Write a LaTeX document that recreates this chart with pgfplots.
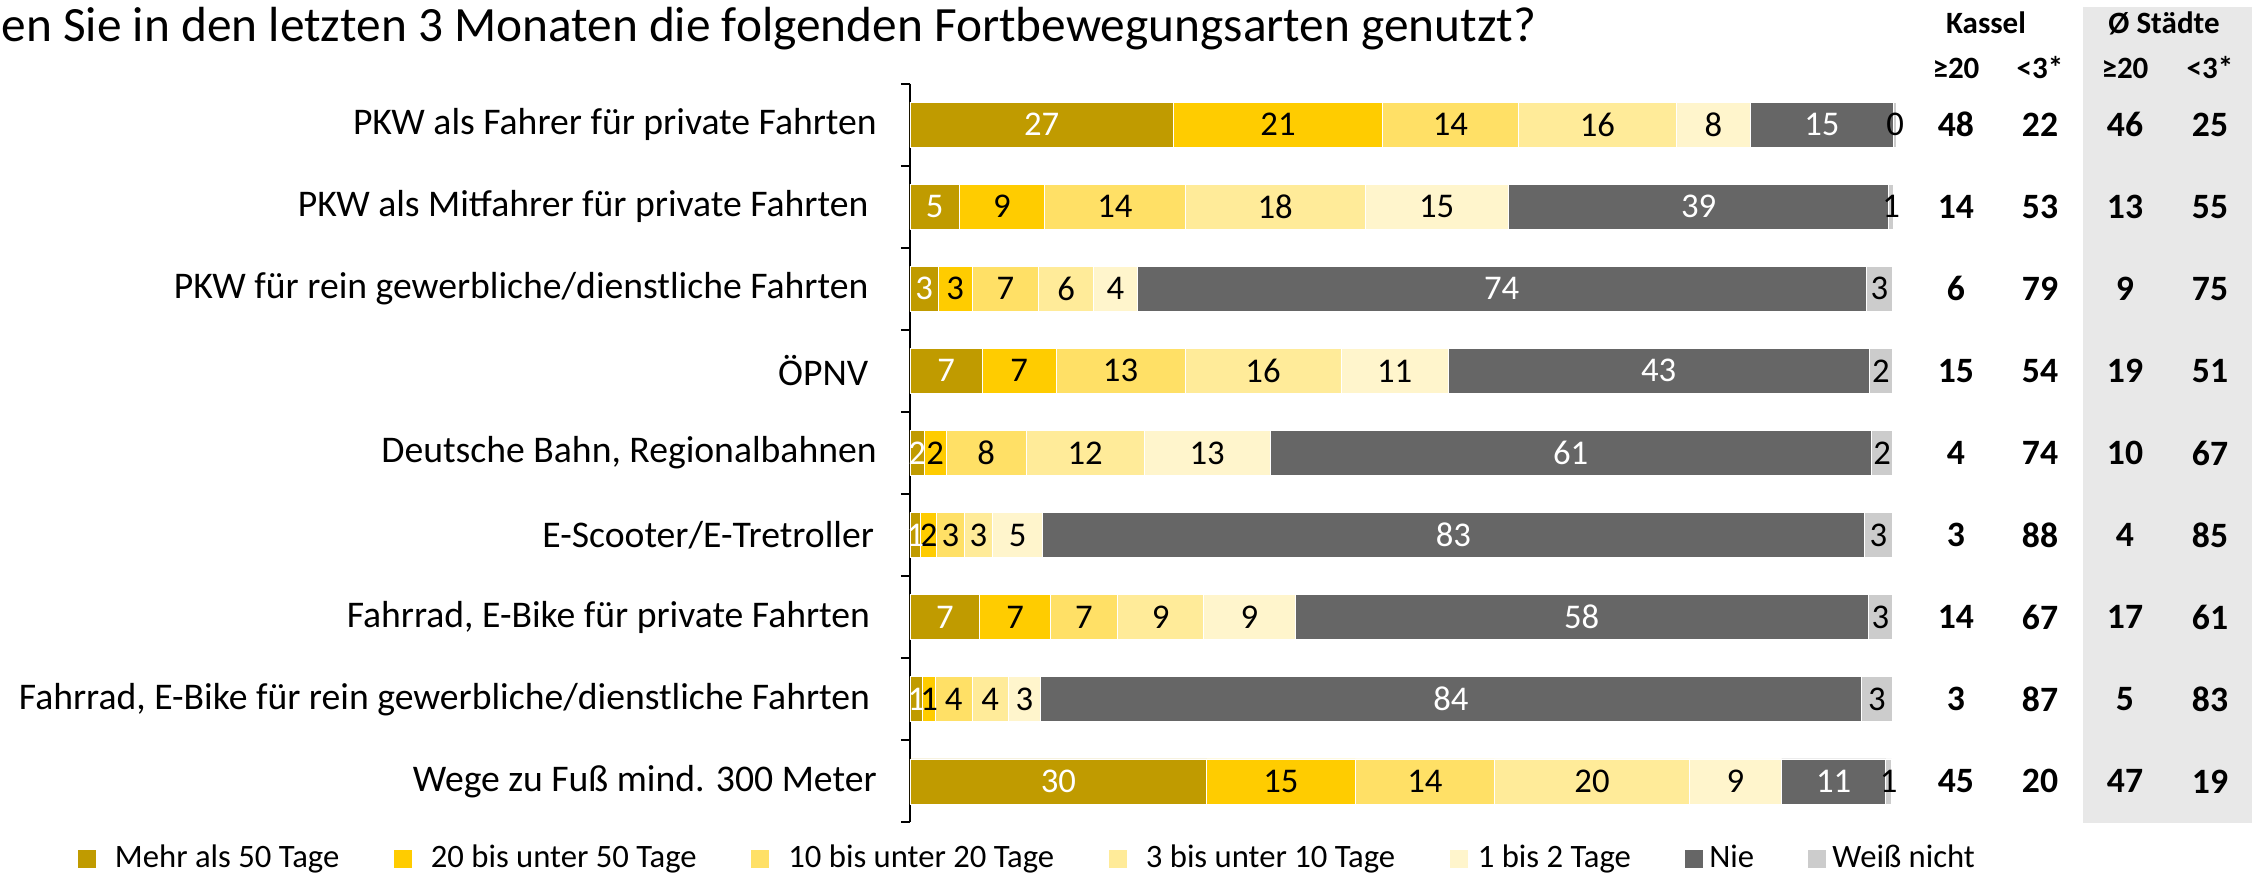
\documentclass[border=0pt]{standalone}
\usepackage{pgfplots}
\pgfplotsset{compat=1.18}
\usepackage{fontspec}
\setmainfont{Carlito}
\definecolor{cA}{RGB}{192,155,0}
\definecolor{cB}{RGB}{255,204,0}
\definecolor{cC}{RGB}{255,224,102}
\definecolor{cD}{RGB}{255,235,153}
\definecolor{cE}{RGB}{255,245,204}
\definecolor{cF}{RGB}{102,102,102}
\definecolor{cG}{RGB}{204,204,204}
\definecolor{panel}{RGB}{232,232,232}
\newcommand{\numfont}{\fontsize{10.7}{12}\selectfont\bfseries}
\newcommand{\trow}[5]{%
  \node[font=\numfont] at (axis cs:106.44,#1) {#2};
  \node[font=\numfont] at (axis cs:114.99,#1) {#3};
  \node[font=\numfont] at (axis cs:123.64,#1) {#4};
  \node[font=\numfont] at (axis cs:132.29,#1) {#5};
}
\pgfplotsset{
  legsq/.style={legend image code/.code={\fill[##1, draw=none] (0pt,-2.7pt) rectangle (5.4pt,2.7pt); \path[draw=none, fill=none] (0pt,0pt) -- (#1,0pt);}}
}
\begin{document}
\begin{tikzpicture}
\useasboundingbox (0,0) rectangle (677.7pt,262.5pt);
\fill[panel] (624.9pt,15.6pt) rectangle (675.6pt,260.4pt);
\node[anchor=base west, inner sep=0pt, font=\fontsize{14.8}{17}\selectfont] at (0.3pt,249.9pt) {en Sie in den letzten 3 Monaten die folgenden Fortbewegungsarten genutzt?};
\node[font=\fontsize{9.3}{11}\selectfont\bfseries] at (595.8pt,255.6pt) {Kassel};
\node[font=\fontsize{9.3}{11}\selectfont\bfseries] at (649.2pt,255.6pt) {Ø Städte};
\node[font=\fontsize{9.3}{11}\selectfont\bfseries] at (586.8pt,242.1pt) {≥20};
\node[font=\fontsize{9.3}{11}\selectfont\bfseries] at (612pt,242.1pt) {<3*};
\node[font=\fontsize{9.3}{11}\selectfont\bfseries] at (637.5pt,242.1pt) {≥20};
\node[font=\fontsize{9.3}{11}\selectfont\bfseries] at (663pt,242.1pt) {<3*};
\begin{axis}[
  at={(273pt,15.78pt)}, anchor=south west,
  scale only axis, width=294.81pt, height=221.67pt,
  xbar stacked, bar width=13.5pt,
  xmin=0, xmax=100, ymin=0.5, ymax=9.5, y dir=reverse,
  axis x line=none, axis y line*=left,
  y axis line style={line width=0.6pt},
  ytick={1,...,9},
  yticklabels={PKW als Fahrer für private Fahrten,
    PKW als Mitfahrer für private Fahrten\hspace*{2.5pt},
    PKW für rein gewerbliche/dienstliche Fahrten\hspace*{2.5pt},
    ÖPNV\hspace*{2.5pt},
    {Deutsche Bahn, Regionalbahnen},
    E-Scooter/E-Tretroller\hspace*{0.8pt},
    {Fahrrad, E-Bike für private Fahrten\hspace*{2pt}},
    {Fahrrad, E-Bike für rein gewerbliche/dienstliche Fahrten\hspace*{2pt}},
    Wege zu Fuß mind. 300 Meter},
  minor ytick={0.5,1.5,...,9.5},
  major tick length=0pt, minor tick length=2.7pt, tick align=outside,
  minor tick style={line width=0.6pt, black},
  yticklabel style={font=\fontsize{11.3}{13}\selectfont, inner sep=0pt, anchor=east, xshift=-9.8pt},
  clip=false,
  nodes near coords, point meta=explicit symbolic,
  every node near coord/.append style={font=\fontsize{10.4}{12}\selectfont, text=black},
  every axis plot/.append style={draw=white, line width=0.2pt},
  legend columns=7,
  legend cell align=left,
  legend style={at={(axis description cs:-0.8477,-0.0495)}, anchor=west, draw=none, fill=none, inner sep=0pt,
    font=\fontsize{9.8}{11}\selectfont, nodes={inner xsep=0pt, inner ysep=1pt},
    /tikz/every even column/.append style={column sep=16.3pt}},
]
\addplot[fill=cA, legsq=11.2pt, every node near coord/.append style={text=white}] coordinates {
  (26.8,1) [27] (5.0,2) [5] (2.9,3) [3] (7.36,4) [7] (1.46,5) [2] (1.1,6) [1] (7.1,7) [7] (1.3,8) [1] (30.2,9) [30]};
\addplot[fill=cB, legsq=11.2pt] coordinates {
  (21.3,1) [21] (8.7,2) [9] (3.4,3) [3] (7.5,4) [7] (2.21,5) [2] (1.6,6) [2] (7.2,7) [7] (1.3,8) [1] (15.1,9) [15]};
\addplot[fill=cC, legsq=11.2pt] coordinates {
  (13.8,1) [14] (14.3,2) [14] (6.8,3) [7] (13.13,4) [13] (8.14,5) [8] (2.8,6) [3] (6.8,7) [7] (3.7,8) [4] (14.2,9) [14]};
\addplot[fill=cD, legsq=11.2pt] coordinates {
  (16.1,1) [16] (18.3,2) [18] (5.6,3) [6] (15.87,4) [16] (12.04,5) [12] (2.9,6) [3] (8.8,7) [9] (3.7,8) [4] (19.8,9) [20]};
\addplot[fill=cE, legsq=8.5pt] coordinates {
  (7.5,1) [8] (14.6,2) [15] (4.4,3) [4] (10.92,4) [11] (12.79,5) [13] (5.1,6) [5] (9.3,7) [9] (3.3,8) [3] (9.4,9) [9]};
\addplot[fill=cF, legsq=7.2pt, every node near coord/.append style={text=white}] coordinates {
  (14.6,1) [15] (38.7,2) [39] (74.2,3) [74] (42.81,4) [43] (61.19,5) [61] (83.6,6) [83] (58.3,7) [58] (83.5,8) [84] (10.6,9) [11]};
\addplot[fill=cG, legsq=7.2pt] coordinates {
  (0.3,1) [0] (0.5,2) [1] (2.7,3) [3] (2.41,4) [2] (2.18,5) [2] (2.9,6) [3] (2.5,7) [3] (3.2,8) [3] (0.6,9) [1]};
\legend{Mehr als 50 Tage, 20 bis unter 50 Tage, 10 bis unter 20 Tage, 3 bis unter 10 Tage, 1 bis 2 Tage, Nie, Weiß nicht}
\trow{1}{48}{22}{46}{25}
\trow{2}{14}{53}{13}{55}
\trow{3}{6}{79}{9}{75}
\trow{4}{15}{54}{19}{51}
\trow{5}{4}{74}{10}{67}
\trow{6}{3}{88}{4}{85}
\trow{7}{14}{67}{17}{61}
\trow{8}{3}{87}{5}{83}
\trow{9}{45}{20}{47}{19}
\end{axis}
\end{tikzpicture}
\end{document}
